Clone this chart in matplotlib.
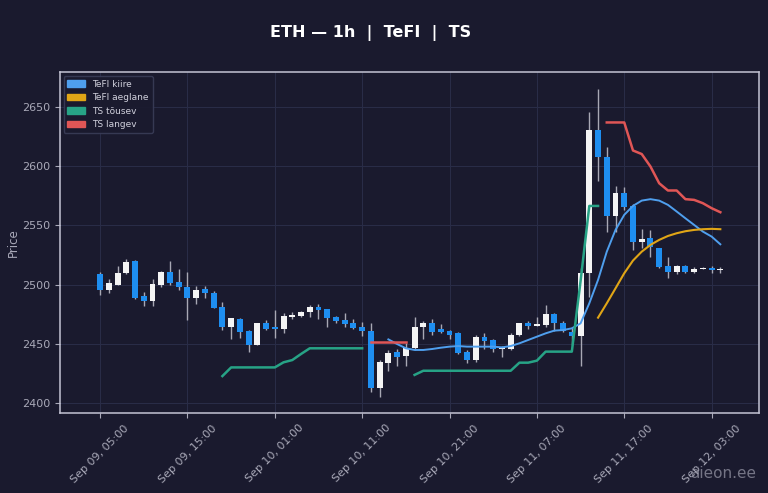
import numpy as np
import pandas as pd
import matplotlib
matplotlib.use("Agg")
import matplotlib.pyplot as plt
import matplotlib.dates as mdates
from matplotlib.patches import Patch

# ETH 1h candles with TeFI (fast/slow) and TS (up/down) overlays

times = pd.date_range("2024-09-09 05:00", periods=72, freq="h")

opens = [2509, 2495.5, 2500, 2510, 2520, 2490.5, 2486.5, 2500, 2511, 2502,
         2498, 2489, 2496, 2493, 2481, 2464, 2471, 2461, 2449, 2468,
         2464.6, 2462.4, 2473, 2474, 2477, 2481.5, 2479.5, 2472.8, 2470.5, 2467.4,
         2464, 2461.3, 2413, 2434, 2443, 2440, 2447, 2464.6, 2467.4, 2462.3,
         2461, 2459, 2443.5, 2436.5, 2456, 2453.4, 2445.5, 2446, 2457.6, 2468,
         2465.2, 2466, 2475, 2468, 2460.4, 2456.7, 2509.6, 2630.4, 2607.4, 2558.2,
         2577, 2566.6, 2536.3, 2539, 2530.7, 2515.8, 2510.5, 2516, 2510.5, 2513.2,
         2513.8, 2512.7]
closes = [2495.5, 2501, 2510, 2519, 2489, 2486, 2500.6, 2511, 2501, 2498,
          2489, 2495.5, 2492.7, 2480.6, 2464, 2471.6, 2460, 2449, 2468, 2463,
          2462.7, 2474, 2474.5, 2477, 2481.5, 2478.7, 2471.6, 2469.7, 2466.6, 2463.8,
          2461, 2413, 2434.6, 2442.7, 2439, 2446.4, 2464.6, 2467.4, 2460.4, 2460.4,
          2458, 2442.7, 2436.5, 2455.6, 2452.8, 2445.5, 2447.2, 2457.6, 2467.4, 2465,
          2466.6, 2475.3, 2468, 2461, 2457, 2509.6, 2630.4, 2607.4, 2558.2, 2577,
          2565.8, 2536.3, 2538.2, 2532, 2515.2, 2510.5, 2516, 2510.5, 2513.2, 2514,
          2512.7, 2513.2]
highs = [2511, 2504.5, 2516, 2522, 2521, 2494, 2504.5, 2511.5, 2520, 2513,
         2511, 2498.5, 2499, 2494.7, 2485, 2471.6, 2471.6, 2462, 2468, 2470,
         2479, 2476, 2477, 2478, 2483, 2484, 2479.5, 2473.6, 2476.4, 2470.8,
         2468.5, 2467.4, 2436.5, 2445, 2445.5, 2450.6, 2473, 2469, 2471, 2467,
         2462, 2460.4, 2445, 2457.6, 2459, 2454, 2448.3, 2459, 2468, 2469.6,
         2472.5, 2483, 2476.4, 2469, 2464.6, 2513.8, 2645, 2665, 2615.8, 2583,
         2582.6, 2567.7, 2546.7, 2546, 2531.2, 2523.6, 2516.6, 2516.6, 2514.6, 2514.6,
         2516, 2515]
lows = [2491, 2493, 2499.5, 2509, 2488, 2482, 2482, 2498, 2500, 2495.5,
        2470, 2484, 2489, 2480, 2462, 2454, 2455, 2443, 2449, 2462,
        2455, 2459.6, 2471, 2473, 2472.5, 2471, 2464, 2468, 2464.6, 2462.4,
        2457, 2410, 2405, 2427, 2431.5, 2431.5, 2445, 2454, 2457.6, 2459,
        2454, 2442, 2433.7, 2435, 2445.5, 2443.5, 2439.3, 2445, 2457, 2462.4,
        2465, 2464.6, 2461, 2460.4, 2449, 2431.5, 2490, 2587.7, 2544, 2544,
        2563, 2529, 2530.7, 2523.6, 2513.8, 2505.4, 2509, 2509.6, 2509.6, 2513,
        2509.6, 2510]

# indicator segments: (start candle index, values)
tefi_fast_start = 33
tefi_fast = [2453.9, 2450, 2446.4, 2445, 2445, 2445.8, 2446.9, 2447.8, 2448.3, 2447.8,
             2447.8, 2447.8, 2447.8, 2447.2, 2448.3, 2450.6, 2453.4, 2456.2, 2459, 2461.3,
             2461.8, 2463.2, 2467.4, 2484.3, 2504, 2527.8, 2546.1, 2558.8, 2566.3, 2570.8,
             2572, 2570.8, 2567.2, 2561.6, 2555.9, 2550.3, 2544.7, 2540.5, 2534]
tefi_slow_start = 57
tefi_slow = [2472.2, 2484.3, 2496.9, 2509.6, 2520.3, 2527.8, 2533.5, 2537.7, 2541, 2543.3,
             2545, 2546.1, 2546.7, 2547, 2546.7]
ts_up_segments = [
    (14, [2423, 2430.3, 2430.3, 2430.3, 2430.3, 2430.3, 2430.3, 2434.6, 2436.5, 2441.6,
          2446.4, 2446.4, 2446.4, 2446.4, 2446.4, 2446.4, 2446.4]),
    (36, [2424, 2427.5, 2427.5, 2427.5, 2427.5, 2427.5, 2427.5, 2427.5, 2427.5, 2427.5,
          2427.5, 2427.5, 2434.3, 2434.3, 2436, 2443.6, 2443.6, 2443.6, 2443.6, 2503,
          2566.3, 2566.3]),
]
ts_down_segments = [
    (31, [2451.6, 2451.6, 2451.6, 2451.6, 2451.6]),
    (58, [2636.6, 2636.6, 2636.6, 2613, 2610, 2599.5, 2585.4, 2579.3, 2579.3, 2572,
          2571.4, 2568.6, 2564.4, 2561]),
]

BG = "#1a1a2e"
GRID = "#2a2d48"
TXT = "#a9a9b8"
UP = "#f4f4f4"
DOWN = "#1e8ef0"
WICK = "#a8a8b4"
C_FAST = "#4f9fee"
C_SLOW = "#e0a516"
C_UP = "#27a386"
C_DOWN = "#e05656"

fig = plt.figure(figsize=(7.68, 4.93), dpi=100, facecolor=BG)
ax = fig.add_axes([0.078, 0.162, 0.910, 0.691], facecolor=BG)

o = np.array(opens)
c = np.array(closes)
bottoms = np.minimum(o, c)
heights = np.maximum(np.abs(c - o), 0.8)
colors = [UP if cc >= oo else DOWN for oo, cc in zip(o, c)]

ax.vlines(times, lows, highs, color=WICK, linewidth=1.0, zorder=2)
ax.bar(times, heights, bottom=bottoms, width=0.68 / 24, color=colors,
       linewidth=0, zorder=3)

ax.plot(times[tefi_fast_start:tefi_fast_start + len(tefi_fast)], tefi_fast,
        color=C_FAST, linewidth=1.4, zorder=4)
ax.plot(times[tefi_slow_start:tefi_slow_start + len(tefi_slow)], tefi_slow,
        color=C_SLOW, linewidth=1.5, zorder=4)
for start, vals in ts_up_segments:
    ax.plot(times[start:start + len(vals)], vals, color=C_UP, linewidth=1.8, zorder=4)
for start, vals in ts_down_segments:
    ax.plot(times[start:start + len(vals)], vals, color=C_DOWN, linewidth=1.8, zorder=4)

t0 = times[0]
ax.set_xlim(t0 - pd.Timedelta(hours=4.6), t0 + pd.Timedelta(hours=75.4))
ax.set_ylim(2391.8, 2678.7)
ax.set_yticks([2400, 2450, 2500, 2550, 2600, 2650])
ax.set_xticks([t0 + pd.Timedelta(hours=10 * k) for k in range(8)])
ax.xaxis.set_major_formatter(mdates.DateFormatter("%b %d, %H:%M"))
plt.setp(ax.get_xticklabels(), rotation=45)

ax.grid(True, color=GRID, linewidth=0.7)
ax.set_axisbelow(True)
ax.tick_params(colors=TXT, labelsize=8, length=3.5)
for sp in ax.spines.values():
    sp.set_color("#c4c4d4")
    sp.set_linewidth(1.1)
ax.set_ylabel("Price", color=TXT, fontsize=8.5, labelpad=1.5)

handles = [Patch(color=C_FAST, label="TeFI kiire"),
           Patch(color=C_SLOW, label="TeFI aeglane"),
           Patch(color=C_UP, label="TS tõusev"),
           Patch(color=C_DOWN, label="TS langev")]
leg = ax.legend(handles=handles, loc="upper left", fontsize=6.5, facecolor=BG,
                edgecolor="#3a3d58", labelcolor="#d0d0dc", framealpha=0.9,
                borderaxespad=0.4)

fig.text(0.483, 0.933, "ETH — 1h  |  TeFI  |  TS", color="white", fontsize=11.5,
         fontweight="bold", ha="center", va="center")
fig.text(0.985, 0.025, "aieon.ee", color="#8c8c9c", fontsize=11, ha="right",
         va="bottom", alpha=0.8)

fig.savefig("out.png", dpi=100, facecolor=BG)
